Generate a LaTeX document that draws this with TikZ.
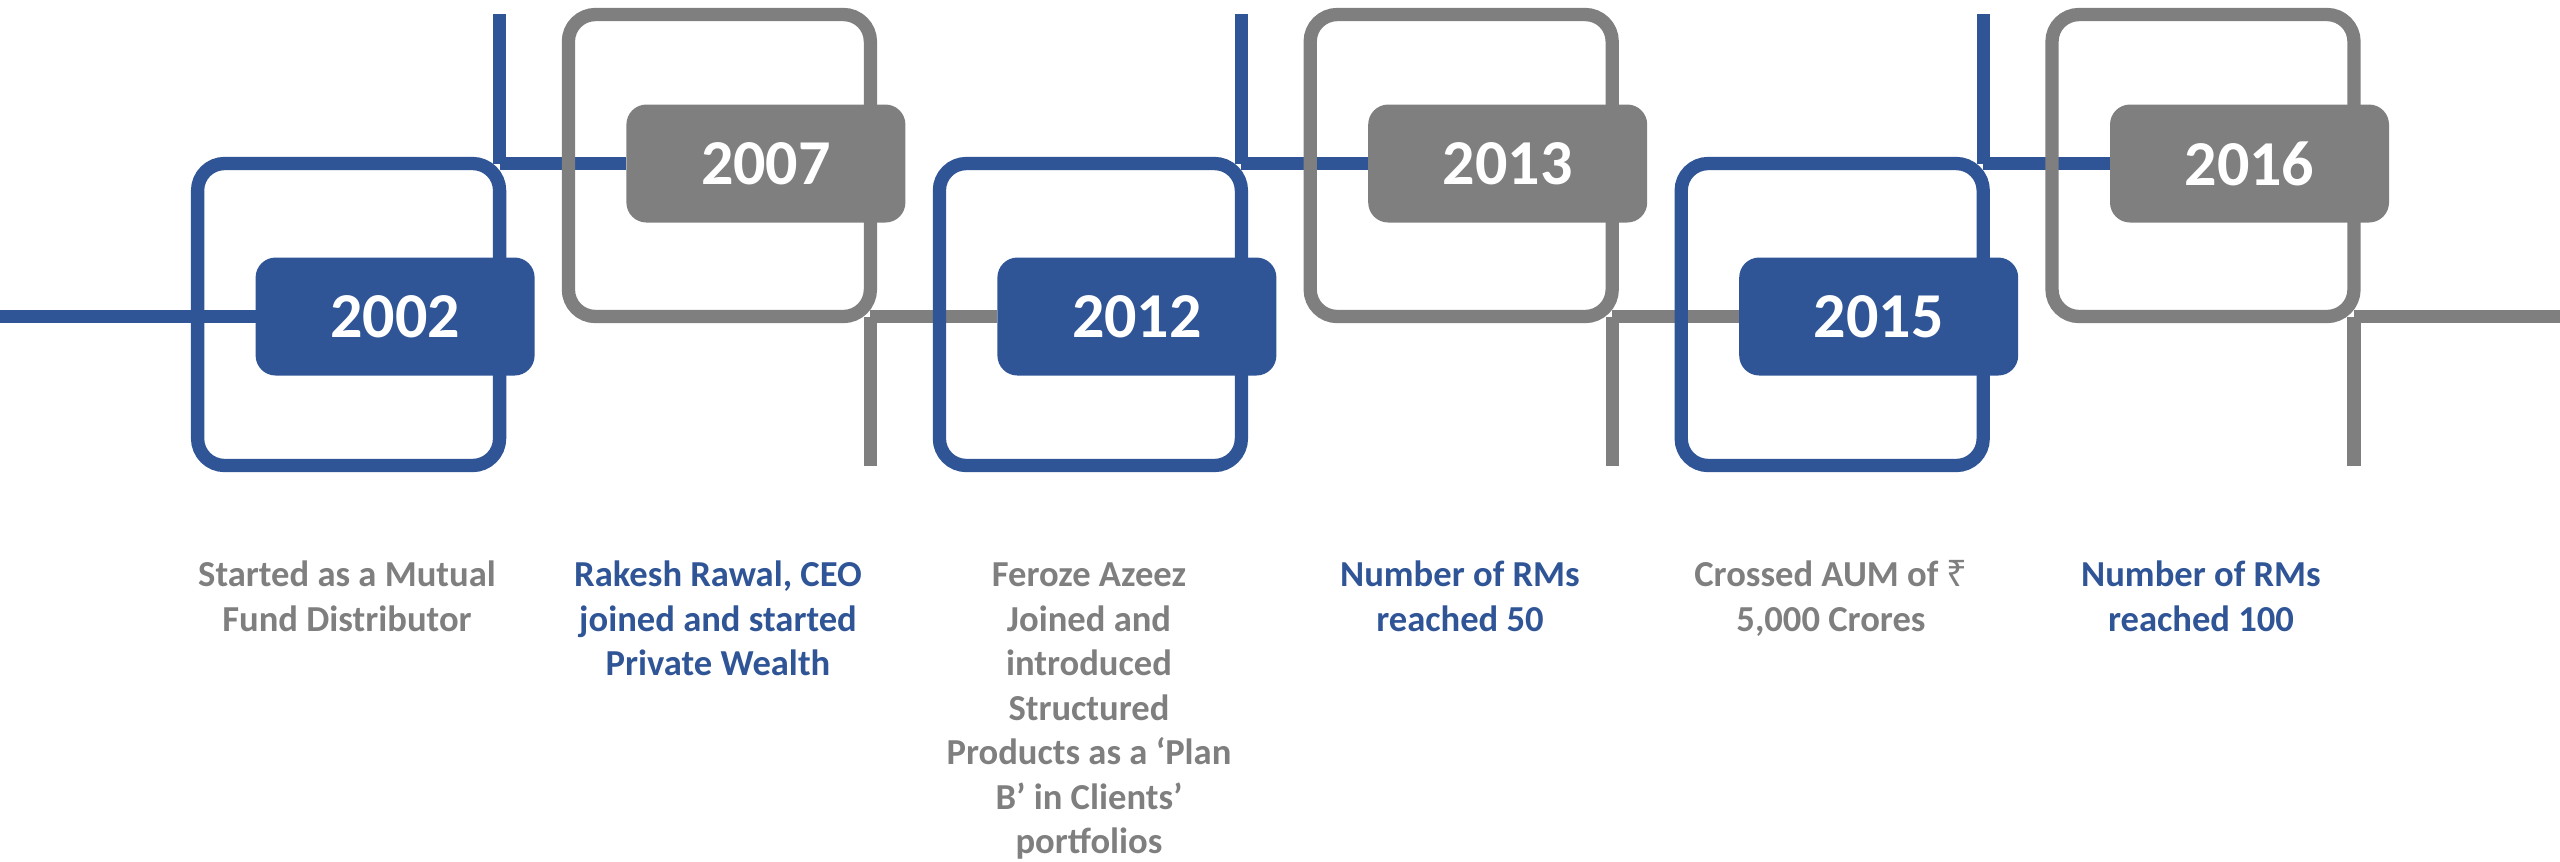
\documentclass[tikz,border=0pt]{standalone}
\usepackage{fontspec}
\setmainfont{Carlito}
\newfontfamily\rupeefont{Noto Sans}
\usepackage{xcolor}
\usetikzlibrary{positioning, calc, backgrounds}

\definecolor{tlblue}{HTML}{2F5597}
\definecolor{tlgray}{HTML}{7F7F7F}

\tikzset{
    yearframe/.style={draw, rounded corners=6.75pt, line width=3.325pt,
        minimum width=75.5pt, minimum height=75.5pt, inner sep=0pt, outer sep=0pt},
    yearbox/.style={rounded corners=5pt, minimum width=69.75pt, minimum height=29.5pt,
        inner sep=0pt, outer sep=0pt, text=white, font=\bfseries\fontsize{16}{16}\selectfont},
    trackline/.style={line width=3.325pt},
    milestone/.style={anchor=north, align=center, inner sep=0pt,
        font=\bfseries\fontsize{9.15}{11.125}\selectfont},
}

\begin{document}
\begin{tikzpicture}[x=0.25pt, y=-0.25pt]
        % page size of the reference, in pixels
        \useasboundingbox (0,0) rectangle (2560,861);

        \coordinate (start) at (0,316.5);
        \coordinate (end)   at (2560,316.5);
        \coordinate (top)   at (0,14);
        \coordinate (bottom) at (0,465.7);

        % the frames
        \node[yearframe, tlblue] (bf1) at (348.6,314.5)  {};
        \node[yearframe, tlgray] (gf1) at (719.4,165.5)  {};
        \node[yearframe, tlblue] (bf2) at (1090.4,314.5) {};
        \node[yearframe, tlgray] (gf2) at (1461.2,165.5) {};
        \node[yearframe, tlblue] (bf3) at (1832.2,314.5) {};
        \node[yearframe, tlgray] (gf3) at (2203,165.5)   {};

        % the years
        \node[yearbox, fill=tlblue] (y2002) at (395.1,316.5)  {2002};
        \node[yearbox, fill=tlgray] (y2007) at (765.9,163.5)  {2007};
        \node[yearbox, fill=tlblue] (y2012) at (1136.9,316.5) {2012};
        \node[yearbox, fill=tlgray] (y2013) at (1507.7,163.5) {2013};
        \node[yearbox, fill=tlblue] (y2015) at (1878.7,316.5) {2015};
        \node[yearbox, fill=tlgray] (y2016) at (2249.5,163.5) {2016};

        % the track, below the frames
        \begin{scope}[on background layer]
            \draw[trackline, tlblue] (start) -- (y2002.west);
            \draw[trackline, tlblue] (bf1.north east) -- (y2007.west);
            \draw[trackline, tlblue] (bf2.north east) -- (y2013.west);
            \draw[trackline, tlblue] (bf3.north east) -- (y2016.west);
            \draw[trackline, tlblue] (bf1.north east) -- (bf1.north east |- top);
            \draw[trackline, tlblue] (bf2.north east) -- (bf2.north east |- top);
            \draw[trackline, tlblue] (bf3.north east) -- (bf3.north east |- top);

            \draw[trackline, tlgray] (gf1.south east) -- (y2012.west);
            \draw[trackline, tlgray] (gf2.south east) -- (y2015.west);
            \draw[trackline, tlgray] (gf3.south east) -- (end);
            \draw[trackline, tlgray] (gf1.south east) -- (gf1.south east |- bottom);
            \draw[trackline, tlgray] (gf2.south east) -- (gf2.south east |- bottom);
            \draw[trackline, tlgray] (gf3.south east) -- (gf3.south east |- bottom);
        \end{scope}

        % the milestones
        \node[milestone, text=tlgray] (m2002) at (347,560)  {Started as a Mutual\\Fund Distributor};
        \node[milestone, text=tlblue] (m2007) at (718,560)  {Rakesh Rawal, CEO\\joined and started\\Private Wealth};
        \node[milestone, text=tlgray] (m2012) at (1089,562) {Feroze Azeez\\Joined and\\introduced\\Structured\\Products as a ‘Plan\\B’ in Clients’\\portfolios};
        \node[milestone, text=tlblue] (m2013) at (1460,560) {Number of RMs\\reached 50};
        \node[milestone, text=tlgray] (m2015) at (1831,560) {Crossed AUM of {\rupeefont ₹}\\5,000 Crores};
        \node[milestone, text=tlblue] (m2016) at (2201,560) {Number of RMs\\reached 100};
    \end{tikzpicture}
\end{document}
